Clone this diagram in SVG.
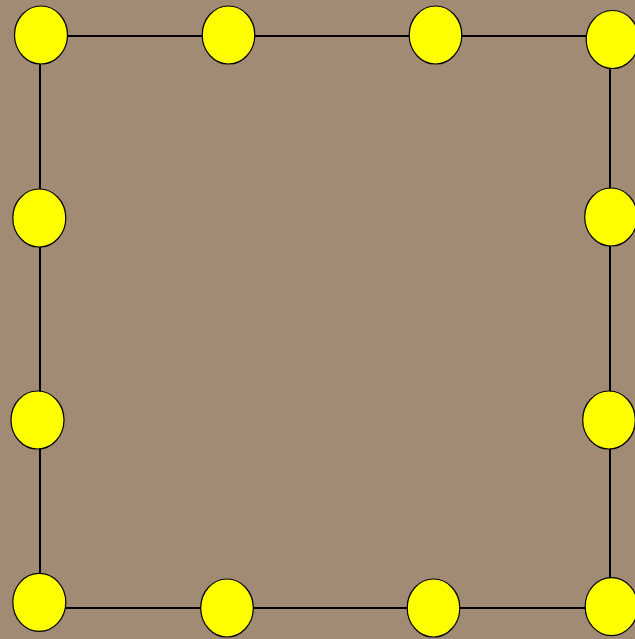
<svg xmlns="http://www.w3.org/2000/svg" width="635" height="639" viewBox="0 0 635 639">
<style>
.n{fill:#ffff00;stroke:#000;stroke-width:1.2}
.e{fill:none;stroke:#000;stroke-width:2}
</style>
<rect width="635" height="639" fill="#a28b75"/>
<g id="edges">
<path class="e" d="M40 36 H610 V608 H40 Z"/>
</g>
<g id="n1"><ellipse class="n" cx="41" cy="35" rx="26.5" ry="29"/></g>
<g id="n2"><ellipse class="n" cx="228.5" cy="35" rx="26.3" ry="29"/></g>
<g id="n3"><ellipse class="n" cx="435.5" cy="35" rx="26.3" ry="29"/></g>
<g id="n4"><ellipse class="n" cx="612.5" cy="39.5" rx="26.3" ry="29"/></g>
<g id="n5"><ellipse class="n" cx="39.3" cy="218" rx="26.5" ry="29"/></g>
<g id="n6"><ellipse class="n" cx="611" cy="217" rx="26.3" ry="29"/></g>
<g id="n7"><ellipse class="n" cx="37.5" cy="420" rx="26.5" ry="29"/></g>
<g id="n8"><ellipse class="n" cx="609" cy="420" rx="26.3" ry="29"/></g>
<g id="n9"><ellipse class="n" cx="39.3" cy="602.3" rx="26.5" ry="29"/></g>
<g id="n10"><ellipse class="n" cx="227" cy="608" rx="26.3" ry="29"/></g>
<g id="n11"><ellipse class="n" cx="433.5" cy="608" rx="26.3" ry="29"/></g>
<g id="n12"><ellipse class="n" cx="611.5" cy="606.7" rx="26.3" ry="29"/></g>
</svg>
